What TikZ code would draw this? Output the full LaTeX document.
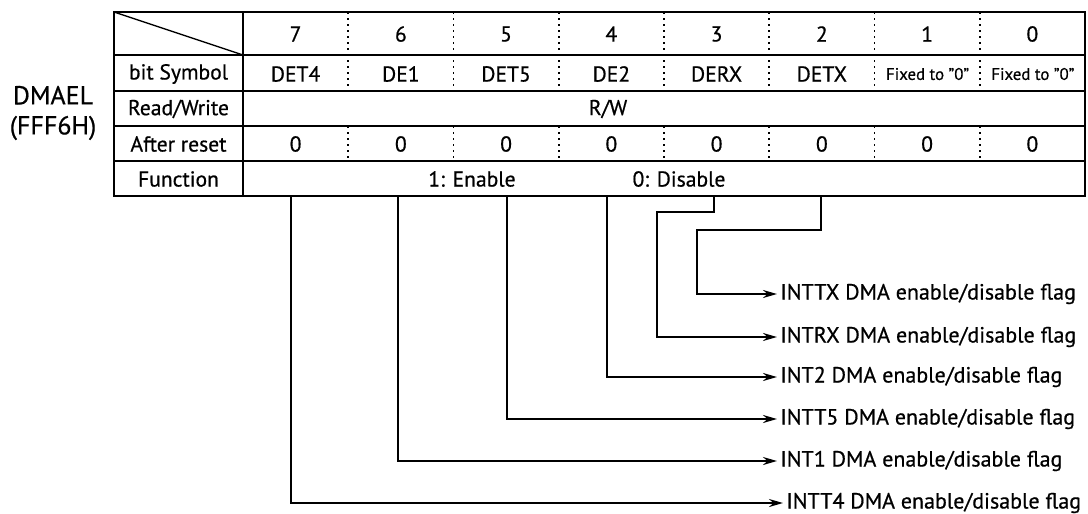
\documentclass[tikz,border=0pt]{standalone}
\usepackage{fontspec}
\setmainfont{PT Sans}[FakeBold=0.6]
\usetikzlibrary{arrows.meta}

\tikzset{
  cell/.style={font=\fontsize{10.8}{13}\selectfont, inner sep=0pt},
  tinycell/.style={font=\fontsize{8.4}{10}\selectfont, inner sep=0pt},
  flag/.style={font=\fontsize{11}{13}\selectfont, anchor=west, inner xsep=1.5pt, inner ysep=0pt},
  conn/.style={line width=1pt, -{Stealth[length=7pt,width=4pt]}},
  sep/.style={line width=0.9pt, dash pattern=on 1pt off 2pt}
}

\begin{document}
\begin{tikzpicture}[x=0.5pt,y=-0.5pt]
  \useasboundingbox (0,0) rectangle (1088,514);

  % register name
  \node[font=\fontsize{13}{15}\selectfont, align=center] (reg) at (53,113) {DMAEL\\(FFF6H)};

  % table frame
  \draw[line width=1.1pt] (114,12) rectangle (1085,196);
  \foreach \y in {55,91,126,161}
    \draw[line width=0.9pt] (114,\y) -- (1085,\y);
  \draw[line width=0.9pt] (243,12) -- (243,196);
  \draw[line width=0.7pt] (114,12) -- (243,55);
  \foreach \i in {1,...,7}{
    \draw[sep] (243+\i*105.25,12) -- (243+\i*105.25,91);
    \draw[sep] (243+\i*105.25,126) -- (243+\i*105.25,161);
  }

  % row headings
  \node[cell] (hsym) at (178.5,74) {bit Symbol};
  \node[cell] (hrw) at (178.5,109) {Read/Write};
  \node[cell] (hrst) at (178.5,144) {After reset};
  \node[cell] (hfun) at (178.5,179) {Function};

  % bit numbers and reset values
  \foreach \b in {7,...,0}{
    \pgfmathsetmacro\cx{295.6+(7-\b)*105.25}
    \node[cell] (bit\b) at (\cx,34) {\b};
    \node[cell] (rst\b) at (\cx,144) {0};
  }
  \foreach \s [count=\i from 0] in {DET4,DE1,DET5,DE2,DERX,DETX}{
    \pgfmathsetmacro\cx{295.6+\i*105.25}
    \node[cell] (sym\i) at (\cx,74) {\s};
  }
  \node[tinycell] (fix1) at (927.6,74) {Fixed to "0"};
  \node[tinycell] (fix0) at (1032.9,74) {Fixed to "0"};

  \node[cell] (rw) at (608,109) {R/W};
  \node[cell] (en) at (472,179) {1: Enable};
  \node[cell] (dis) at (679,179) {0: Disable};

  % flags
  \node[flag] (fTX) at (777,294) {INTTX DMA enable/disable flag};
  \node[flag] (fRX) at (777,337) {INTRX DMA enable/disable flag};
  \node[flag] (f2) at (777,377) {INT2 DMA enable/disable flag};
  \node[flag] (fT5) at (777,419) {INTT5 DMA enable/disable flag};
  \node[flag] (f1) at (777,461) {INT1 DMA enable/disable flag};
  \node[flag] (fT4) at (783,503) {INTT4 DMA enable/disable flag};

  % connectors
  \coordinate (d7) at (291,196);
  \coordinate (d6) at (398,196);
  \coordinate (d5) at (507,196);
  \coordinate (d4) at (607,196);
  \coordinate (d3) at (714,196);
  \coordinate (d2) at (821,196);
  \draw[conn] (d7) |- (fT4.west);
  \draw[conn] (d6) |- (f1.west);
  \draw[conn] (d5) |- (fT5.west);
  \draw[conn] (d4) |- (f2.west);
  \draw[conn] (d3) |- (657,212) |- (fRX.west);
  \draw[conn] (d2) |- (697,230) |- (fTX.west);
\end{tikzpicture}
\end{document}
